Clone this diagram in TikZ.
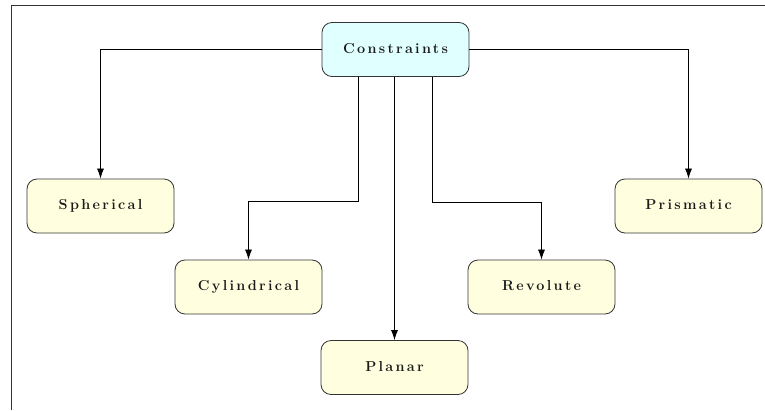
\documentclass[tikz,border=0pt]{standalone}
\usepackage{fontspec}
\usetikzlibrary{arrows.meta}
% spaced bold face for the box labels
\newfontfamily\labelfont{lmroman12-bold.otf}[LetterSpace=16]
\definecolor{rootfill}{HTML}{E0FFFF}
\definecolor{leaffill}{HTML}{FFFFE0}
\definecolor{edgegray}{HTML}{333333}
\definecolor{textgray}{HTML}{1A1A1A}
\tikzset{
  box/.style={draw=edgegray, line width=0.8pt, rounded corners=10pt,
    minimum width=147pt, minimum height=54pt, inner sep=0pt, text=textgray,
    text height=10pt, text depth=3pt,
    font=\labelfont\fontsize{14.4}{17}\selectfont},
  rootbox/.style={box, fill=rootfill},
  leafbox/.style={box, fill=leaffill},
  link/.style={draw=black, line width=0.7pt, -{Latex[length=10pt,width=7pt]}},
  frame/.style={draw=edgegray, line width=0.9pt}
}
\begin{document}
\begin{tikzpicture}[x=1pt, y=-1pt]
\useasboundingbox (0,0) rectangle (765,410);
% outer frame (top and left edges)
\draw[frame] (11,410) -- (11,5) -- (765,5);

\node[rootbox] (con) at (395.5,49.5) {Constraints};
\node[leafbox] (sph) at (100.5,206) {Spherical};
\node[leafbox] (pri) at (688.5,206) {Prismatic};
\node[leafbox] (cyl) at (248.5,287) {Cylindrical};
\node[leafbox] (rev) at (541.5,287) {Revolute};
\node[leafbox] (pla) at (394.5,367.5) {Planar};

\coordinate (cylbend) at (358,201);
\coordinate (revbend) at (432,202);

\draw[link] (con.west) -| (sph.north);
\draw[link] (con.east) -| (pri.north);
\draw[link] (con.south -| cylbend) -- (cylbend) -| (cyl.north);
\draw[link] (con.south -| revbend) -- (revbend) -| (rev.north);
\draw[link] (con.south -| pla.north) -- (pla.north);
\end{tikzpicture}
\end{document}
